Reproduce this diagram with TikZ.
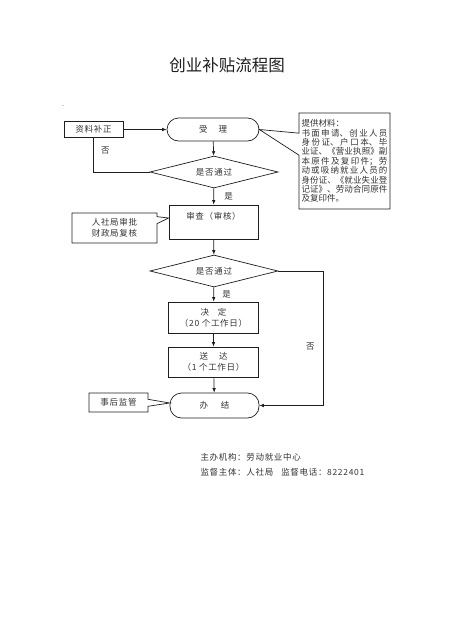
\documentclass[tikz,border=0pt]{standalone}
\usepackage{fontspec}
\setmainfont{Noto Sans CJK SC}[LetterSpace=8]
\newfontfamily\plaincjk{Noto Sans CJK SC}
\usetikzlibrary{arrows.meta,shapes.geometric,shapes.callouts}
\definecolor{lineclr}{HTML}{1e1e1e}
\definecolor{textclr}{HTML}{333333}
\newcommand\docsfont{\plaincjk\fontsize{8.5}{9.4}\selectfont
  \XeTeXlinebreaklocale "zh"\XeTeXlinebreakskip=0pt plus 3pt\relax}

\begin{document}
\begin{tikzpicture}[x=1pt, y=-1pt,
  box/.style={draw=lineclr, line width=0.7pt, align=center, inner sep=2pt, font=\fontsize{8.5}{11}\selectfont, text=textclr},
  stadium/.style={box, rounded corners=11.5pt},
  check/.style={box, diamond, aspect=4, inner sep=0pt},
  note/.style={box, rectangle callout, callout pointer width=7pt},
  lbl/.style={font=\fontsize{8.5}{11}\selectfont, text=textclr},
  >={Latex[length=4.5pt,width=3.5pt]}
]
\useasboundingbox (0,0) rectangle (453,640);

\node[font=\plaincjk\fontsize{16.5}{18}\selectfont, text=lineclr] (title) at (227,65) {创业补贴流程图};
\node[font=\tiny, text=lineclr] (tick) at (63,107) {-};

% main column
\node[box, minimum width=59pt, minimum height=16pt] (fix) at (93.5,129.5) {资料补正};
\node[stadium, minimum width=92pt, minimum height=23pt] (accept) at (213,129.5) {受\hspace{11pt}理};
\node[check, minimum width=128pt, minimum height=32pt] (pass1) at (214,172) {是否通过};
\node[box, minimum width=89pt, minimum height=34pt,
  label={[lbl, anchor=north, yshift=-4pt]north:审查（审核）}] (review) at (213.5,222) {};
\node[check, minimum width=128pt, minimum height=32pt] (pass2) at (214,271) {是否通过};
\node[box, minimum width=90pt, minimum height=31pt] (decide) at (213.5,317.5) {决\hspace{9pt}定\\（20 个工作日）};
\node[box, minimum width=90pt, minimum height=30pt] (deliver) at (213.5,362) {送\hspace{11pt}达\\（1 个工作日）};
\node[stadium, minimum width=89pt, minimum height=25pt] (done) at (214.5,405.5) {办\hspace{13pt}结};

% side notes
\node[note, minimum width=85pt, minimum height=30pt,
  callout absolute pointer={([yshift=4pt]review.west)}] (approve) at (114.5,228) {人社局审批\\财政局复核};
\node[note, minimum width=59pt, minimum height=19pt,
  callout absolute pointer={([yshift=2.5pt]done.west)}] (watch) at (118.5,402.5) {事后监管};
\node[note, minimum width=91pt, minimum height=96pt, text width=86pt, align=justify,
  callout pointer width=22pt, callout absolute pointer={(accept.east)}, font=\docsfont]
  (docs) at (344.5,161) {提供材料：\\
  书面申请、创业人员\linebreak
  身份证、户口本、毕\linebreak
  业证、《营业执照》副\linebreak
  本原件及复印件；劳\linebreak
  动或吸纳就业人员的\linebreak
  身份证、《就业失业登\linebreak
  记证》、劳动合同原件\linebreak
  及复印件。};

% connectors
\draw[->, lineclr, line width=0.7pt] (fix) -- (accept);
\draw[->, lineclr, line width=0.7pt] (accept) -- (pass1);
\draw[lineclr, line width=0.7pt] (pass1.west) -| node[lbl, pos=0.82, right=4pt] {否} (fix.south);
\draw[->, lineclr, line width=0.7pt] (pass1) -- node[lbl, right=7pt] {是} (review);
\draw[->, lineclr, line width=0.7pt] (review) -- (pass2);
\draw[->, lineclr, line width=0.7pt] (pass2) -- node[lbl, right=5pt] {是} (decide);
\draw[->, lineclr, line width=0.7pt] (decide) -- (deliver);
\draw[->, lineclr, line width=0.7pt] (deliver) -- (done);
\draw[->, lineclr, line width=0.7pt] (pass2.east) -- ++(45,0) |- node[lbl, pos=0.28, left=5pt] {否} (done.east);

% footer
\node[lbl, anchor=west] (host) at (197,457) {主办机构：劳动就业中心};
\node[lbl, anchor=west] (super) at (197,472) {监督主体：人社局\hspace{8pt}监督电话：8222401};
\end{tikzpicture}
\end{document}
